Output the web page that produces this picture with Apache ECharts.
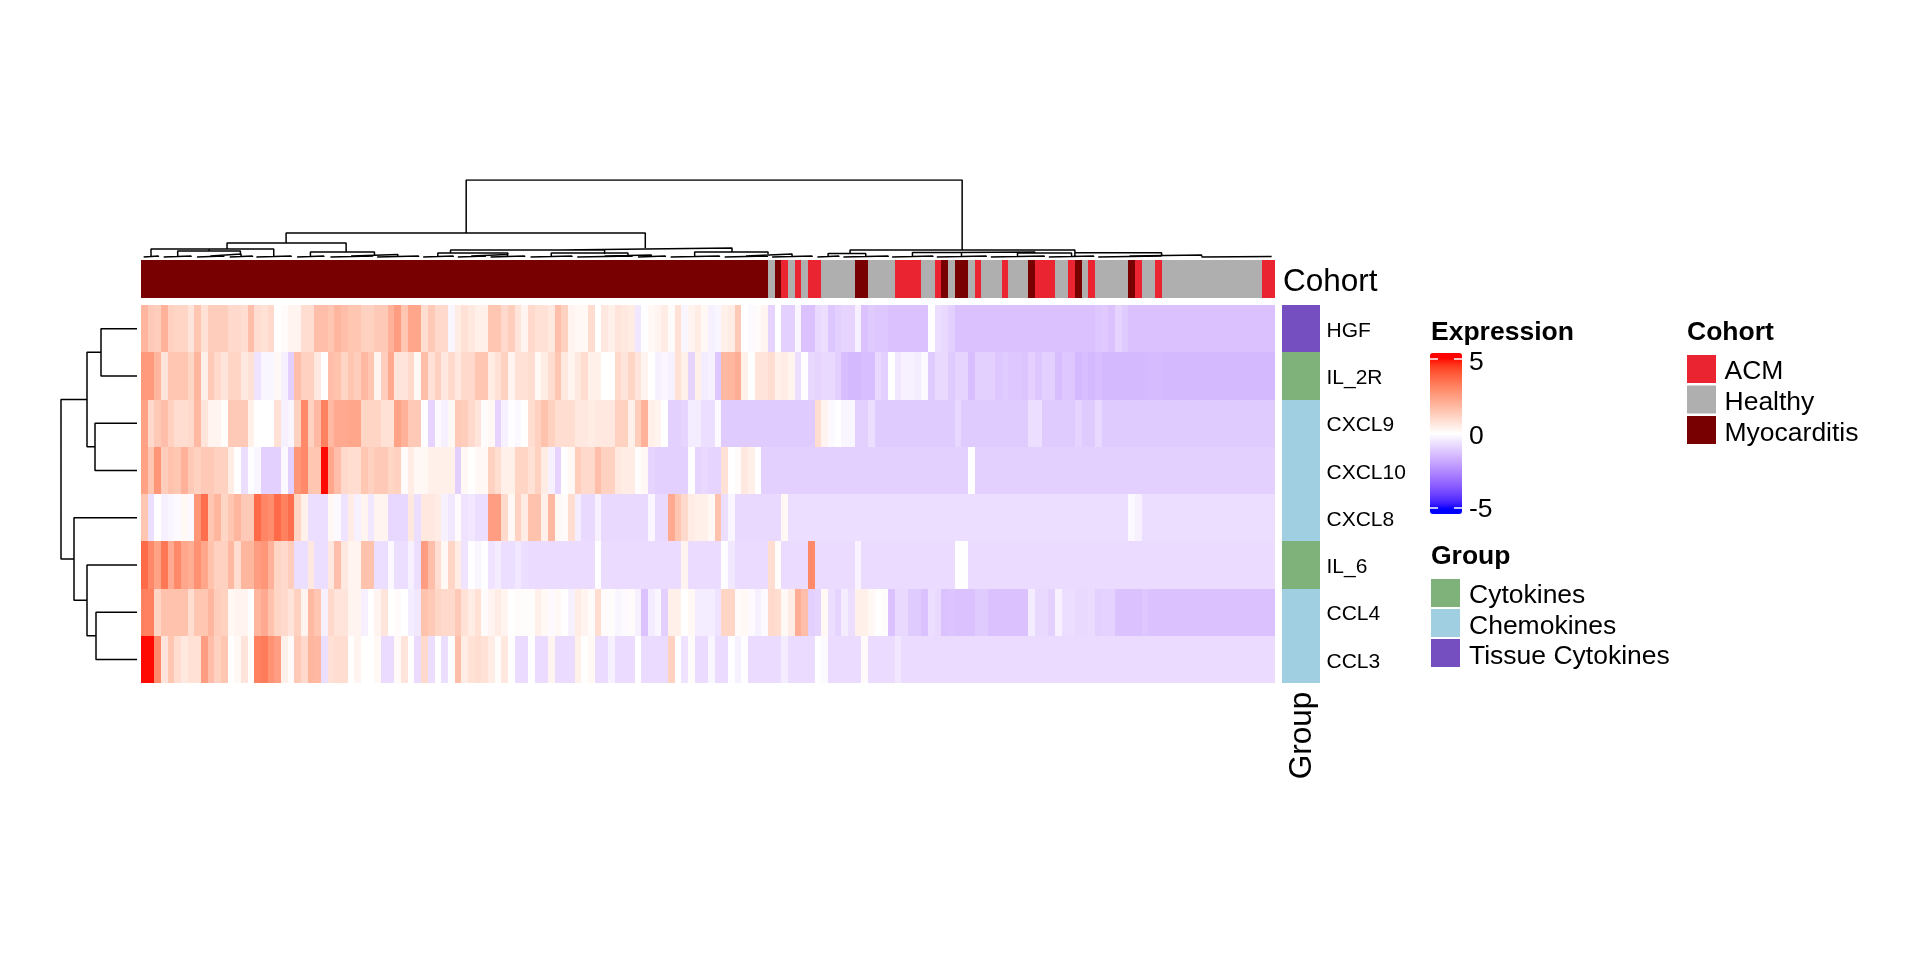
<!DOCTYPE html>
<html><head><meta charset="utf-8">
<style>html,body{margin:0;padding:0;background:#fff}#c{width:1920px;height:960px}</style>
<script src="https://cdn.jsdelivr.net/npm/echarts@6/dist/echarts.min.js"></script>
</head><body><div id="c"></div>
<script>
const rowLabels = ['HGF','IL_2R','CXCL9','CXCL10','CXCL8','IL_6','CCL4','CCL3'];
const rowGroups = ['Tissue Cytokines','Cytokines','Chemokines','Chemokines','Chemokines','Cytokines','Chemokines','Chemokines'];
const cohortNames = ['ACM','Healthy','Myocarditis'];
const groupNames = ['Cytokines','Chemokines','Tissue Cytokines'];
const cohortColors = {ACM:'#EA2430',Healthy:'#AFAFAF',Myocarditis:'#780000'};
const groupColors = {Cytokines:'#7FB17B',Chemokines:'#9FCFE0','Tissue Cytokines':'#754EBF'};
const cohortRuns = [['Myocarditis',94],['Healthy',1],['Myocarditis',1],['ACM',1],['Healthy',1],['ACM',1],['Healthy',1],['ACM',2],['Healthy',5],['Myocarditis',2],['Healthy',4],['ACM',4],['Healthy',2],['ACM',1],['Myocarditis',1],['Healthy',1],['Myocarditis',2],['Healthy',1],['ACM',1],['Healthy',3],['ACM',1],['Healthy',3],['Myocarditis',1],['ACM',3],['Healthy',2],['ACM',1],['Myocarditis',1],['Healthy',1],['ACM',1],['Healthy',5],['Myocarditis',1],['ACM',1],['Healthy',2],['ACM',1],['Healthy',15],['ACM',2]];

const HGF = [1.9,1.4,1.3,2.0,1.2,1.1,1.1,0.7,1.5,0.8,
1.3,1.3,1.3,1.0,1.0,0.9,1.7,0.9,0.8,1.0,
0,0.1,0.3,0.3,0.9,0.9,1.7,1.7,1.5,1.9,
1.7,1.5,1.5,1.2,1.2,1.4,1.4,2.0,2.5,1.5,
2.3,2.3,0.9,1.4,1.0,1.0,-0.2,0.5,0.8,0.6,
0.4,0.4,1.5,1.5,1.0,1.3,0.7,0.3,1.0,0.8,
0.8,0.6,1.7,1.2,0.3,0.2,0.2,0.9,0,0.6,
0.4,0.7,0.6,0.5,-0.5,-0.05,0.2,0.3,0.5,0.1,
0.8,-0.2,0.3,0.5,0.2,-0.3,-0.2,0.4,0.5,1.4,
0,-0.1,0.1,0.3,-0.9,0,-1.0,-1.0,-0.2,-1.3,
-1.3,-0.8,-0.7,-1.2,-1.0,-0.9,-0.9,-0.3,-1.3,-1.1,
-1.2,-1.2,-1.3,-1.3,-1.3,-1.3,-1.3,-1.3,0,-0.7,
-0.8,-1.0,-1.3,-1.3,-1.3,-1.3,-1.3,-1.3,-1.3,-1.3,
-1.3,-1.3,-1.3,-1.3,-1.3,-1.3,-1.3,-1.3,-1.3,-1.3,
-1.3,-1.3,-1.3,-1.2,-1.15,-1.3,-0.9,-1.1,-1.3,-1.3,
-1.3,-1.3,-1.3,-1.3,-1.3,-1.3,-1.3,-1.3,-1.3,-1.3,
-1.3,-1.3,-1.3,-1.3,-1.3,-1.3,-1.3,-1.3,-1.3,-1.3];
const IL_2R = [2.6,2.6,1.9,0.7,1.5,1.5,1.5,1.1,1.9,0.4,
1.4,1.0,0.7,1.1,1.1,0.6,0.8,-0.6,-0.2,-0.2,
0.2,-0.3,-1.0,1.7,1.2,1.2,0.6,0,1.7,1.6,
1.1,1.5,1.3,1.8,1.5,0.3,1.3,2.2,0.7,0.7,
1.0,0.2,1.7,0.8,1.2,0.6,1.0,0.6,1.0,1.0,
1.5,1.5,0.5,0.8,1.2,0.3,0.8,0.8,0.9,0.2,
0.5,0.9,1.5,0.6,0.3,0.6,0.9,0.4,0.4,0,
0,1.0,0.7,1.1,0.7,0.3,0,-0.3,-0.2,-0.3,
0.8,0.4,-0.9,0.4,-0.4,-0.3,-1.2,1.8,1.9,2.1,
0.4,0,0.7,0.7,0.9,0.4,0.5,0.3,-0.7,-0.05,
-0.8,-0.9,-0.8,-0.8,-1.0,-1.4,-1.5,-1.5,-1.4,-1.4,
-0.8,-1.0,0,-0.5,-0.3,-0.3,-0.4,-0.1,-1.1,-0.8,
-0.8,-1.1,-0.9,-0.9,-1.4,-1.0,-1.0,-1.0,-1.2,-1.1,
-1.2,-1.2,-1.25,-1.0,-1.2,-1.0,-1.0,-1.4,-1.2,-1.2,
-1.5,-1.4,-1.5,-1.4,-1.5,-1.5,-1.5,-1.5,-1.5,-1.5,
-1.5,-1.45,-1.45,-1.5,-1.5,-1.5,-1.5,-1.5,-1.5,-1.5,
-1.5,-1.5,-1.5,-1.5,-1.5,-1.5,-1.5,-1.5,-1.5,-1.5];
const CXCL9 = [2.4,1.0,1.4,1.7,1.2,0.9,0.9,1.0,1.8,0.7,
0.3,0.3,0.05,1.4,1.4,1.4,0.4,0,0,0,
0.8,-0.3,-0.2,1.2,3.0,1.2,1.8,3.2,1.8,2.2,
2.2,2.3,2.3,1.1,1.1,1.1,0.8,0.8,2.4,2.0,
1.4,1.4,-0.05,-0.9,-0.1,-0.3,0.2,1.4,1.3,1.0,
0.7,0.05,0.2,-0.9,-0.3,-0.05,-0.15,0,0.9,1.2,
1.6,1.2,0.9,0.9,0.9,0.6,0.6,0.5,0.6,0.6,
0.6,1.2,1.2,0.4,1.3,2.0,0.4,0.3,0,-1.0,
-1.0,-0.9,-0.4,-0.4,-0.7,-0.7,-0.1,-1.1,-1.1,-1.1,
-1.1,-1.1,-1.1,-1.1,-1.1,-1.1,-1.1,-1.1,-1.1,-1.1,
-1.1,0.9,0.3,-0.1,0,-0.2,-0.2,-1.0,-1.0,-0.7,
-1.1,-1.1,-1.1,-1.1,-1.1,-1.1,-1.1,-1.1,-1.1,-1.1,
-1.1,-1.1,-0.85,-1.1,-1.1,-1.1,-1.1,-1.1,-1.1,-1.1,
-1.1,-1.1,-1.1,-0.7,-0.7,-1.1,-1.1,-1.1,-1.1,-1.1,
-0.9,-1.1,-1.1,-0.8,-1.1,-1.1,-1.1,-1.1,-1.1,-1.1,
-1.1,-1.1,-1.1,-1.1,-1.1,-1.1,-1.1,-1.1,-1.1,-1.1,
-1.1,-1.1,-1.1,-1.1,-1.1,-1.1,-1.1,-1.1,-1.1,-1.1];
const CXCL10 = [2.4,1.5,2.7,1.3,1.6,1.5,2.0,1.4,1.2,1.4,
1.4,1.2,1.2,0.5,0,-0.7,-0.05,-0.2,-1.0,-1.0,
-1.0,-0.15,-1.0,2.7,3.0,1.5,1.5,5,2.3,1.7,
1.0,0.9,0.9,1.5,1.2,1.4,1.4,1.1,1.2,0.1,
0.5,0.2,0.2,0.4,0.4,0.4,0.4,-1.0,0.2,0,
0.2,0.2,1.2,0.9,0.4,0.4,1.1,1.1,0.8,1.2,
0.5,-0.3,-0.9,0,0.2,1.3,1.0,1.0,1.7,1.2,
1.2,0.6,0.5,0.5,0.05,0.2,-0.9,-1.0,-1.0,-1.0,
-1.0,-1.0,-0.05,-0.9,-0.8,-0.9,-0.9,0.8,0,0.1,
0.6,0.4,0,-1.0,-1.0,-1.0,-1.0,-1.0,-1.0,-1.0,
-1.0,-1.0,-1.0,-1.0,-1.0,-1.0,-1.0,-1.0,-1.0,-1.0,
-1.0,-1.0,-1.0,-1.0,-1.0,-1.0,-1.0,-1.0,-1.0,-1.0,
-1.0,-1.0,-1.0,-1.0,0,-1.0,-1.0,-1.0,-1.0,-1.0,
-1.0,-1.0,-1.0,-1.0,-1.0,-1.0,-1.0,-1.0,-1.0,-1.0,
-1.0,-1.0,-1.0,-1.0,-1.0,-1.0,-1.0,-1.0,-1.0,-1.0,
-1.0,-1.0,-1.0,-1.0,-1.0,-1.0,-1.0,-1.0,-1.0,-1.0,
-1.0,-1.0,-1.0,-1.0,-1.0,-1.0,-1.0,-1.0,-1.0,-1.0];
const CXCL8 = [1.5,-0.7,0,-0.3,-0.2,-0.1,0.2,-0.15,2.7,3.6,
1.5,1.9,1.1,1.5,1.9,1.4,1.4,3.7,3.1,2.9,
3.7,3.2,3.6,1.1,0.4,-0.7,-0.7,-0.7,0.2,-0.1,
-0.6,0.5,-0.3,0.3,-0.5,0.3,0.3,-0.85,-0.85,-0.85,
0.6,-0.7,0.6,0.6,0.5,-0.3,-0.5,0.1,-0.6,-0.5,
-0.7,-0.7,2.5,2.5,1.0,0.2,1.2,0.5,1.6,1.6,
0.4,1.8,0.2,0.1,0.9,-0.4,-0.8,-0.8,-0.3,-0.8,
-0.8,-0.8,-0.8,-0.8,-0.8,-0.8,-0.2,-0.8,-0.8,2.2,
1.5,1.0,0.5,0.4,0.4,0.2,1.6,-0.7,-0.2,-0.8,
-0.8,-0.8,-0.8,-0.8,-0.8,-0.8,0.2,-0.7,-0.7,-0.7,
-0.7,-0.7,-0.7,-0.7,-0.7,-0.7,-0.7,-0.7,-0.7,-0.7,
-0.7,-0.7,-0.7,-0.7,-0.7,-0.7,-0.7,-0.7,-0.7,-0.7,
-0.7,-0.7,-0.7,-0.7,-0.7,-0.7,-0.7,-0.7,-0.7,-0.7,
-0.7,-0.7,-0.7,-0.7,-0.7,-0.7,-0.7,-0.7,-0.7,-0.7,
-0.7,-0.7,-0.7,-0.7,-0.7,-0.7,-0.7,-0.7,-0.15,-0.3,
-0.7,-0.7,-0.7,-0.7,-0.7,-0.7,-0.7,-0.7,-0.7,-0.7,
-0.7,-0.7,-0.7,-0.7,-0.7,-0.7,-0.7,-0.7,-0.7,-0.7];
const IL_6 = [3.7,3.0,2.4,3.4,2.2,3.0,2.3,2.1,2.8,2.3,
1.6,1.2,1.2,1.8,0.9,1.9,1.9,2.5,2.7,2.0,
1.1,1.0,1.3,-0.7,-0.7,0.6,-0.7,-0.7,0.6,1.7,
0.6,0.3,0.3,1.6,1.6,-0.7,-0.7,-0.15,-0.7,-0.7,
-0.3,-0.7,2.5,1.7,0.9,0.2,1.1,0.5,-0.6,-0.05,
-0.2,-0.05,-0.6,-0.4,-0.7,-0.7,-0.5,-0.7,-0.75,-0.75,
-0.75,-0.75,-0.75,-0.75,-0.75,-0.75,-0.75,-0.75,-0.05,-0.75,
-0.75,-0.75,-0.75,-0.75,-0.75,-0.75,-0.75,-0.75,-0.75,-0.75,
-0.75,0.3,-0.75,-0.75,-0.75,-0.75,-0.75,-0.05,-0.5,-0.75,
-0.75,-0.75,-0.75,-0.75,0.9,0.05,-0.75,-0.75,-0.75,-0.75,
3.0,-0.75,-0.75,-0.75,-0.75,-0.75,-0.75,-0.25,-0.75,-0.75,
-0.75,-0.75,-0.75,-0.75,-0.75,-0.75,-0.75,-0.75,-0.75,-0.75,
-0.75,-0.75,-0.02,-0.02,-0.75,-0.75,-0.75,-0.75,-0.75,-0.75,
-0.75,-0.75,-0.75,-0.75,-0.75,-0.75,-0.75,-0.75,-0.75,-0.75,
-0.75,-0.75,-0.75,-0.75,-0.75,-0.75,-0.75,-0.75,-0.75,-0.75,
-0.75,-0.75,-0.75,-0.75,-0.75,-0.75,-0.75,-0.75,-0.75,-0.75,
-0.75,-0.75,-0.75,-0.75,-0.75,-0.75,-0.75,-0.75,-0.75,-0.75];
const CCL4 = [3.2,3.2,1.1,1.6,1.6,1.6,1.6,0.9,1.5,1.5,
1.9,1.3,1.2,0.2,0.3,0.3,0,1.9,2.2,1.6,
1.1,1.0,0.7,1.2,0.3,1.8,1.5,-0.3,1.0,0.7,
0.7,0.3,0.3,-0.3,0,0.3,0.7,0,0.1,0,
-0.4,-0.5,1.6,1.4,1.1,1.0,1.0,1.4,0.8,0.5,
0.8,0.1,0.3,0.5,0.3,0,0.1,0.05,0.05,0.4,
0.2,-0.1,0.2,0,-0.3,0.5,0.3,0.1,0.9,0.1,
0.05,-0.2,-0.1,0.1,-0.3,-1.3,-0.4,-0.2,-1.0,0.4,
0.4,0,0.2,-0.4,-0.4,-0.4,-0.6,1.1,1.1,0.1,
0.2,-0.1,-0.3,-0.1,1.0,0.9,0.2,0.5,2.1,1.7,
-1.0,-0.9,0.2,-0.7,-0.9,-0.4,-0.7,0.4,0.4,0.2,
0,0.05,-1.3,-0.8,-0.8,-1.1,-1.1,-1.3,-0.7,-0.8,
-1.3,-1.25,-1.3,-1.3,-1.3,-1.1,-1.1,-1.3,-1.3,-1.3,
-1.3,-1.3,-1.3,-0.4,-0.8,-0.8,-1.0,-0.3,-0.7,-0.7,
-0.8,-0.8,-0.75,-1.0,-0.95,-0.95,-1.3,-1.3,-1.3,-1.3,
-1.2,-1.3,-1.3,-1.3,-1.3,-1.3,-1.3,-1.3,-1.3,-1.3,
-1.3,-1.3,-1.3,-1.3,-1.3,-1.3,-1.3,-1.3,-1.3,-1.3];
const CCL3 = [5,5,3.0,0.7,1.5,0.9,0.6,0.8,0.8,2.5,
1.7,1.2,1.5,0,0.2,0.7,0,3.2,3.3,2.8,
2.5,0.4,0.1,1.4,1.0,1.9,1.8,-0.7,0.8,0.9,
0.9,0,0.3,0,0,0.2,-0.75,-0.75,0.15,0.7,
0,-0.75,1.0,-0.7,0,-0.7,0,1.7,0.5,0.8,
0.9,0.8,0.5,0.05,0.6,0,-0.75,-0.75,0,-0.75,
-0.75,0.3,-0.75,-0.75,-0.75,0.4,0.02,0.2,-0.75,-0.75,
-0.3,-0.75,-0.75,-0.75,0,-0.75,-0.75,-0.75,-0.75,1.2,
0,-0.6,0.1,-0.75,-0.75,-0.2,-0.75,-0.75,-0.05,-0.3,
-0.05,-0.75,-0.75,-0.75,-0.75,-0.75,-0.4,-0.75,-0.75,-0.75,
-0.75,0,-0.1,-0.75,-0.75,-0.75,-0.75,-0.75,0.1,-0.75,
-0.75,-0.75,-0.75,-0.5,-0.75,-0.75,-0.75,-0.75,-0.75,-0.75,
-0.75,-0.75,-0.75,-0.75,-0.75,-0.75,-0.75,-0.75,-0.75,-0.75,
-0.75,-0.75,-0.75,-0.75,-0.75,-0.75,-0.75,-0.75,-0.75,-0.75,
-0.75,-0.75,-0.75,-0.75,-0.75,-0.75,-0.75,-0.75,-0.75,-0.75,
-0.75,-0.75,-0.75,-0.75,-0.75,-0.75,-0.75,-0.75,-0.75,-0.75,
-0.75,-0.75,-0.75,-0.75,-0.75,-0.75,-0.75,-0.75,-0.75,-0.75];
const rows = [HGF,IL_2R,CXCL9,CXCL10,CXCL8,IL_6,CCL4,CCL3];

// top dendrogram brackets: [left column, right column, height, left child height, right child height]
const topBrackets = [[48.75,123.1,78,25,8],[21.75,75.6,25,15,10],[12.9,30.75,15,9,6],[1.5,19.9,9,2,2],[5.5,14.9,7,2,4],[10.4,15,4,2,2],[10.2,10.2,9,7,7],
[25.4,35,6,2,3.5],[31.5,38.5,3.5,2,2],[62.7,88.6,10,8,6],[46.4,69.5,8,5,4],[44.5,55,5,2,3.5],[49.5,54.95,3.5,2,2],[61.5,73,5,2,3],[69.5,76.5,3,2,2],
[83,94,6,2,4],[90.7,97.6,4,2,2],[106.3,140,8,4.5,5.3],[103,108.65,4.5,2,2],[115.65,123,5.5,2,2],[131.4,139.5,5,2,2],[122,134,6,5.5,5],[140,153,5.3,2,3],[148.2,159,3,2,1.5],[159,169.5,1.5,1,1]];
const topClusters = [[0.4,2.6],[3.4,7.5],[8.4,12.4],[13.3,16.7],[17.3,22.5],[23.4,27.4],[28.4,34.7],[35.4,41.6],[42.3,46.8],[47.5,51.6],[52.4,57.5],[58.4,64.6],[65.4,73.6],[74.5,78.6],[79.4,86.7],[87.5,93.9],[94.6,100.6],[101.4,104.6],[105.3,112],[112.6,118.7],[119.3,126.7],[127.4,135.4],[136.1,142.8],[143.5,152.9]];
// left dendrogram: [row position a, row position b, height, a child height, b child height]
const leftBrackets = [[0.5,1.5,36,0,0],[2.5,3.5,42,0,0],[1,3,50,36,42],[6.5,7.5,41,0,0],[5.5,7,50,0,41],[4.5,6.25,63,0,50],[2,5.375,76,50,63]];

// LAB ramp: blue - white - red, as the colour bar shows it
function labToHex(L,a,b){const fy=(L+16)/116,fx=fy+a/500,fz=fy-b/200,f=t=>t>0.2069?t*t*t:(t-16/116)/7.787;
 const X=.95047*f(fx),Y=f(fy),Z=1.08883*f(fz);
 const g=v=>{v=Math.min(1,Math.max(0,v));v=v<=.0031308?12.92*v:1.055*Math.pow(v,1/2.4)-.055;return Math.round(v*255).toString(16).padStart(2,'0')};
 return '#'+g(3.2406*X-1.5372*Y-.4986*Z)+g(-.9689*X+1.8758*Y+.0415*Z)+g(.0557*X-.204*Y+1.057*Z);}
const barMax = 5.41, stops = [];
for(let i=0;i<=64;i++){const v=-barMax+2*barMax*i/64,t=Math.min(1,Math.abs(v)/5),e=v<0?[32.3,79.19,-107.86]:[53.24,80.09,67.2];
 stops.push(labToHex(100+(e[0]-100)*t,e[1]*t,e[2]*t));}

const heat=[];rows.forEach((r,y)=>r.forEach((v,x)=>heat.push([x,y,v])));
const cols=Array.from({length:170},(_,i)=>i);
const cohort=[];cohortRuns.forEach(([n,c])=>{for(let i=0;i<c;i++)cohort.push({value:[cohort.length,0,1],itemStyle:{color:cohortColors[n]}})});
const group=rowGroups.map((g,i)=>({value:[0,i,1],itemStyle:{color:groupColors[g]}}));
const topLine=[];
topBrackets.forEach(([l,r,h,a,b])=>{topLine.push([l,a],[l,h],[r,h],[r,b],null)});
topClusters.forEach(([l,r])=>{topLine.push([l,1],[l,2],[r,2],[r,1],null)});
const leftLine=[];
leftBrackets.forEach(([a,b,h,ha,hb])=>{leftLine.push([ha,a],[h,a],[h,b],[hb,b],null)});

// cells on whole pixels so that neighbouring cells join without a seam
const cell=(p,api)=>{const c=api.coord([api.value(0),api.value(1)]),s=api.size([1,1]);
 const x0=Math.round(c[0]-s[0]/2),x1=Math.round(c[0]+s[0]/2),y0=Math.round(c[1]-s[1]/2),y1=Math.round(c[1]+s[1]/2);
 return {type:'rect',shape:{x:x0,y:y0,width:x1-x0,height:y1-y0},style:{fill:api.visual('color')}};};

const F='"Liberation Sans",Arial,sans-serif';
const hidden=(o)=>Object.assign({show:false},o);
const txt=(x,y,s,size,bold,extra)=>Object.assign({type:'text',x,y:y+2.5,style:{text:s,fontFamily:F,fontSize:size,fontWeight:bold?'bold':'normal',fill:'#000',textAlign:'left',textVerticalAlign:'middle'}},extra||{});
const swatch=(x,y,w,h,c)=>({type:'rect',shape:{x,y,width:w,height:h},style:{fill:c}});
const g=[];
g.push(txt(1283,280,'Cohort',31.5));
g.push(txt(1302.5,733,'Group',31.5,false,{rotation:Math.PI/2,style:{text:'Group',fontFamily:F,fontSize:31.5,fill:'#000',textAlign:'center',textVerticalAlign:'middle'}}));
g.push(txt(1431,330,'Expression',26.5,true));
g.push(txt(1469,360,'5',26.5),txt(1469,434,'0',26.5),txt(1469,507,'-5',26.5));
g.push(txt(1431,554,'Group',26.5,true));
groupNames.forEach((n,i)=>{g.push(swatch(1431,579+30*i,29,28,groupColors[n]),txt(1469,593.5+30.5*i,n,26.5))});
g.push(txt(1687,330,'Cohort',26.5,true));
cohortNames.forEach((n,i)=>{g.push(swatch(1687,355+30.5*i,29,28,cohortColors[n]),txt(1724.5,369+31*i,n,26.5))});
[359,508].forEach(y=>{g.push(Object.assign(swatch(1430,y-0.75,8,1.5,'#fff'),{z:100}),Object.assign(swatch(1454,y-0.75,8,1.5,'#fff'),{z:100}))});

const chart=echarts.init(document.getElementById('c'),null,{renderer:'canvas'});
chart.setOption({
 animation:false,backgroundColor:'#fff',
 grid:[{left:141,top:305,width:1134,height:378},{left:141,top:260,width:1134,height:38},{left:1282,top:305,width:38,height:378},
  {left:141,top:180,width:1134,height:78},{left:61,top:305,width:76,height:378},{left:1282,top:307.5,width:38,height:378}],
 xAxis:[hidden({type:'category',data:cols,gridIndex:0}),hidden({type:'category',data:cols,gridIndex:1}),hidden({type:'category',data:['Group'],gridIndex:2}),
  hidden({type:'value',min:0,max:170,gridIndex:3}),hidden({type:'value',min:0,max:76,inverse:true,gridIndex:4}),hidden({type:'category',data:['Group'],gridIndex:5})],
 yAxis:[hidden({type:'category',data:rowLabels,inverse:true,gridIndex:0}),hidden({type:'category',data:['Cohort'],gridIndex:1}),
  hidden({type:'category',data:rowLabels,inverse:true,gridIndex:2}),
  hidden({type:'value',min:0,max:78,gridIndex:3}),hidden({type:'value',min:0,max:8,inverse:true,gridIndex:4}),
  {type:'category',data:rowLabels,inverse:true,gridIndex:5,position:'right',axisLine:{show:false},axisTick:{show:false},
   axisLabel:{color:'#000',fontFamily:F,fontSize:21,margin:6.5,align:'left'}}],
 visualMap:{type:'continuous',seriesIndex:0,dimension:2,min:-barMax,max:barMax,calculable:false,realtime:false,left:1430,top:353,padding:0,itemWidth:32,itemHeight:161,
  text:null,inRange:{color:stops},hoverLink:false},
 series:[
  {type:'custom',xAxisIndex:0,yAxisIndex:0,coordinateSystem:'cartesian2d',data:heat,encode:{x:0,y:1},renderItem:cell,silent:true},
  {type:'custom',xAxisIndex:1,yAxisIndex:1,coordinateSystem:'cartesian2d',data:cohort,encode:{x:0,y:1},renderItem:cell,silent:true},
  {type:'custom',xAxisIndex:2,yAxisIndex:2,coordinateSystem:'cartesian2d',data:group,encode:{x:0,y:1},renderItem:cell,silent:true},
  {type:'line',xAxisIndex:3,yAxisIndex:3,data:topLine,symbol:'none',silent:true,connectNulls:false,lineStyle:{color:'#000',width:1.5}},
  {type:'line',xAxisIndex:4,yAxisIndex:4,data:leftLine,symbol:'none',silent:true,connectNulls:false,lineStyle:{color:'#000',width:1.5}}
 ],
 graphic:g
});
</script></body></html>
